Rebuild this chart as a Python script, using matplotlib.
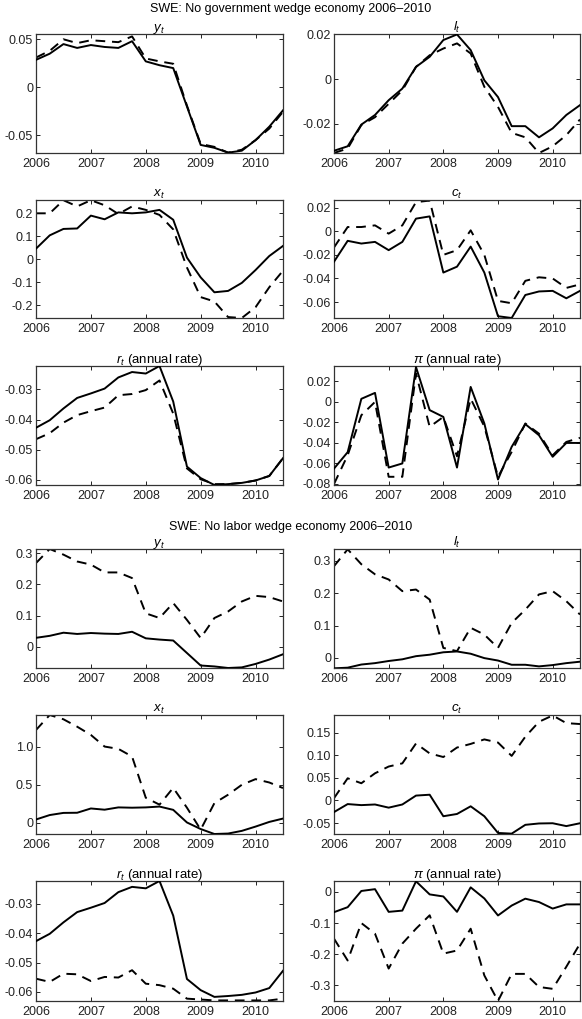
import matplotlib
matplotlib.use("Agg")
import matplotlib.pyplot as plt
from matplotlib.ticker import FixedLocator, FixedFormatter

plt.rcParams['font.family'] = ['Liberation Sans', 'DejaVu Sans']
plt.rcParams['mathtext.fontset'] = 'custom'
plt.rcParams['mathtext.rm'] = 'Liberation Sans'
plt.rcParams['mathtext.it'] = 'Liberation Sans:italic'
plt.rcParams['axes.unicode_minus'] = False

# quarterly dates 2006Q1 .. 2010Q3
quarters = [2006.0, 2006.25, 2006.5, 2006.75, 2007.0, 2007.25, 2007.5, 2007.75,
            2008.0, 2008.25, 2008.5, 2008.75, 2009.0, 2009.25, 2009.5, 2009.75,
            2010.0, 2010.25, 2010.5]
year_ticks = [2006, 2007, 2008, 2009, 2010]
year_labels = ['2006', '2007', '2008', '2009', '2010']

# data (solid lines)
y_data = [0.0286, 0.035, 0.045, 0.041, 0.044, 0.042, 0.041, 0.048, 0.027, 0.023,
          0.020, -0.020, -0.060, -0.063, -0.068, -0.066, -0.055, -0.041, -0.024]
l_data = [-0.032, -0.030, -0.0203, -0.016, -0.0094, -0.0042, 0.0055, 0.010, 0.0175, 0.020,
          0.013, -0.0005, -0.008, -0.021, -0.021, -0.026, -0.022, -0.016, -0.0116]
x_data = [0.046, 0.104, 0.132, 0.134, 0.19, 0.174, 0.204, 0.20, 0.204, 0.215,
          0.172, 0.007, -0.079, -0.144, -0.138, -0.103, -0.047, 0.014, 0.058]
c_data = [-0.0258, -0.0081, -0.0104, -0.009, -0.016, -0.009, 0.0107, 0.0126, -0.035, -0.030,
          -0.013, -0.035, -0.072, -0.0735, -0.054, -0.051, -0.0505, -0.0568, -0.0505]
r_data = [-0.0427, -0.0402, -0.0363, -0.0328, -0.0313, -0.0297, -0.026, -0.0242, -0.0247, -0.0222,
          -0.034, -0.0556, -0.0594, -0.0617, -0.0614, -0.061, -0.0602, -0.0587, -0.0528]
pi_data = [-0.065, -0.049, 0.003, 0.0088, -0.064, -0.060, 0.034, -0.008, -0.0146, -0.064,
           0.0146, -0.021, -0.0756, -0.0438, -0.0217, -0.0325, -0.0535, -0.040, -0.040]

# no government wedge economy (dashed, top block)
y_nogov = [0.031, 0.038, 0.050, 0.046, 0.049, 0.048, 0.047, 0.053, 0.030, 0.027,
           0.0245, -0.019, -0.059, -0.062, -0.068, -0.065, -0.055, -0.043, -0.0255]
l_nogov = [-0.033, -0.031, -0.0205, -0.017, -0.011, -0.005, 0.0055, 0.0107, 0.0137, 0.016,
           0.0115, -0.0034, -0.0124, -0.024, -0.026, -0.033, -0.030, -0.025, -0.018]
x_nogov = [0.20, 0.20, 0.257, 0.23, 0.257, 0.235, 0.197, 0.23, 0.215, 0.193,
           0.13, -0.036, -0.165, -0.184, -0.252, -0.256, -0.209, -0.122, -0.05]
c_nogov = [-0.0137, 0.0036, 0.0036, 0.005, -0.002, 0.005, 0.0247, 0.026, -0.020, -0.016,
           0.0008, -0.020, -0.059, -0.061, -0.042, -0.039, -0.040, -0.048, -0.045]
r_nogov = [-0.0465, -0.0445, -0.041, -0.0385, -0.0372, -0.036, -0.0319, -0.0315, -0.0302, -0.027,
           -0.038, -0.0562, -0.0598, -0.0614, -0.0614, -0.061, -0.0602, -0.0587, -0.0528]
pi_nogov = [-0.080, -0.052, -0.013, 0.0, -0.073, -0.073, 0.0276, -0.0243, -0.0146, -0.053,
            0.0032, -0.024, -0.073, -0.0487, -0.021, -0.031, -0.052, -0.039, -0.035]

# no labor wedge economy (dashed, bottom block)
y_nolab = [0.268, 0.313, 0.295, 0.273, 0.263, 0.238, 0.238, 0.22, 0.107, 0.092,
           0.14, 0.086, 0.028, 0.092, 0.113, 0.145, 0.163, 0.159, 0.145]
l_nolab = [0.283, 0.335, 0.289, 0.258, 0.242, 0.206, 0.211, 0.18, 0.031, 0.021,
           0.093, 0.072, 0.031, 0.108, 0.149, 0.196, 0.206, 0.175, 0.134]
x_nolab = [1.217, 1.413, 1.357, 1.26, 1.152, 1.0, 0.97, 0.87, 0.33, 0.24,
           0.46, 0.20, -0.087, 0.26, 0.37, 0.50, 0.574, 0.53, 0.457]
c_nolab = [0.005, 0.049, 0.038, 0.060, 0.075, 0.082, 0.126, 0.104, 0.096, 0.117,
           0.125, 0.135, 0.128, 0.0985, 0.141, 0.174, 0.188, 0.171, 0.169]
r_nolab = [-0.0555, -0.0566, -0.0538, -0.054, -0.0563, -0.0549, -0.0551, -0.0526, -0.0572, -0.0577,
           -0.0589, -0.0623, -0.0626, -0.0629, -0.0629, -0.0629, -0.0629, -0.0629, -0.0623]
pi_nolab = [-0.15, -0.22, -0.10, -0.134, -0.246, -0.166, -0.118, -0.075, -0.198, -0.188,
            -0.118, -0.268, -0.35, -0.263, -0.263, -0.305, -0.311, -0.24, -0.166]

titles = ['$y_t$', '$l_t$', '$x_t$', '$c_t$', '$r_t$ (annual rate)', r'$\pi$ (annual rate)']
block_titles = ['SWE: No government wedge economy 2006\u20132010',
                'SWE: No labor wedge economy 2006\u20132010']

top_block = [
    (y_data, y_nogov, (-0.0684, 0.0555), [-0.05, 0, 0.05], ['-0.05', '0', '0.05']),
    (l_data, l_nogov, (-0.033, 0.0202), [-0.02, 0, 0.02], ['-0.02', '0', '0.02']),
    (x_data, x_nogov, (-0.256, 0.258), [-0.2, -0.1, 0, 0.1, 0.2],
     ['-0.2', '-0.1', '0', '0.1', '0.2']),
    (c_data, c_nogov, (-0.0735, 0.0265), [-0.06, -0.04, -0.02, 0, 0.02],
     ['-0.06', '-0.04', '-0.02', '0', '0.02']),
    (r_data, r_nogov, (-0.0617, -0.0222), [-0.06, -0.05, -0.04, -0.03],
     ['-0.06', '-0.05', '-0.04', '-0.03']),
    (pi_data, pi_nogov, (-0.081, 0.035), [-0.08, -0.06, -0.04, -0.02, 0, 0.02],
     ['-0.08', '-0.06', '-0.04', '-0.02', '0', '0.02']),
]
bottom_block = [
    (y_data, y_nolab, (-0.068, 0.313), [0, 0.1, 0.2, 0.3], ['0', '0.1', '0.2', '0.3']),
    (l_data, l_nolab, (-0.031, 0.336), [0, 0.1, 0.2, 0.3], ['0', '0.1', '0.2', '0.3']),
    (x_data, x_nolab, (-0.144, 1.413), [0, 0.5, 1.0], ['0', '0.5', '1.0']),
    (c_data, c_nolab, (-0.0743, 0.189), [-0.05, 0, 0.05, 0.10, 0.15],
     ['-0.05', '0', '0.05', '0.10', '0.15']),
    (r_data, r_nolab, (-0.0631, -0.0222), [-0.06, -0.05, -0.04, -0.03],
     ['-0.06', '-0.05', '-0.04', '-0.03']),
    (pi_data, pi_nolab, (-0.35, 0.035), [-0.3, -0.2, -0.1, 0], ['-0.3', '-0.2', '-0.1', '0']),
]

W, H = 582, 1019
fig = plt.figure(figsize=(W / 100, H / 100), dpi=100)

col_x = [(36, 283), (334, 580)]
row_y = [(34, 153), (200, 318), (366, 485), (549, 668), (715, 834), (881, 1001)]


def make_axes(x0, x1, y0, y1):
    return fig.add_axes([x0 / W, 1 - y1 / H, (x1 - x0) / W, (y1 - y0) / H])


for b, block in enumerate([top_block, bottom_block]):
    for i, (solid, dashed, ylim, yt, ytl) in enumerate(block):
        r = b * 3 + i // 2
        c = i % 2
        ax = make_axes(col_x[c][0], col_x[c][1], row_y[r][0], row_y[r][1])
        ax.plot(quarters, solid, color='black', lw=1.4, zorder=3)
        ax.plot(quarters, dashed, color='black', lw=1.4, dashes=(5, 3.5), zorder=2)
        ax.set_xlim(2006, 2010.5)
        ax.set_ylim(*ylim)
        ax.xaxis.set_major_locator(FixedLocator(year_ticks))
        ax.xaxis.set_major_formatter(FixedFormatter(year_labels))
        ax.yaxis.set_major_locator(FixedLocator(yt))
        ax.yaxis.set_major_formatter(FixedFormatter(ytl))
        ax.tick_params(direction='in', top=True, right=True, length=3, width=0.7,
                       labelsize=9, colors='#222222')
        ax.tick_params(axis='x', pad=3.5)
        ax.tick_params(axis='y', pad=2)
        for sp in ax.spines.values():
            sp.set_linewidth(0.9)
            sp.set_color('#333333')
        ax.set_title(titles[i], fontsize=9.5, pad=2.5)

fig.text(0.5, 1 - 9 / H, block_titles[0], ha='center', va='center', fontsize=9)
fig.text(0.5, 1 - 527 / H, block_titles[1], ha='center', va='center', fontsize=9)

fig.savefig('out.png', dpi=100)
